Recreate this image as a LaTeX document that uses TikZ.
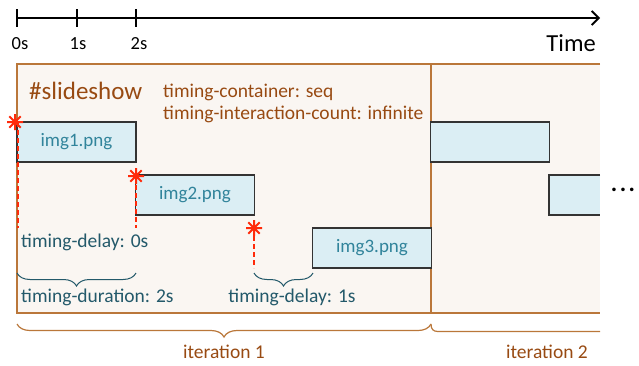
\documentclass[tikz,border=0pt]{standalone}
\usepackage{fontspec}
\setmainfont{Carlito}
\usetikzlibrary{arrows.meta,decorations.pathreplacing}
\definecolor{contfill}{HTML}{FAF6F2}
\definecolor{contline}{HTML}{BA773A}
\definecolor{browntext}{HTML}{984A12}
\definecolor{boxfill}{HTML}{DBEEF4}
\definecolor{boxline}{HTML}{333333}
\definecolor{imgtext}{HTML}{31849B}
\definecolor{labtext}{HTML}{23596A}
\definecolor{starred}{HTML}{FF2A0A}
\tikzset{
  imgbox/.style={draw=boxline, fill=boxfill, line width=1.1pt, minimum width=119pt, minimum height=40pt, inner sep=0pt, text=imgtext, font=\fontsize{19}{22}\selectfont},
  lab/.style={text=labtext, font=\fontsize{19.5}{22}\selectfont, inner sep=0pt},
  brn/.style={text=browntext, font=\fontsize{19.5}{22}\selectfont, inner sep=0pt},
  tick/.style={font=\fontsize{18.5}{20}\selectfont, inner sep=0pt},
  reddash/.style={draw=starred, line width=2pt, dash pattern=on 5pt off 3pt},
  starline/.style={draw=starred, line width=2pt},
  smallbrace/.style={draw=labtext, line width=1pt, decorate, decoration={brace, mirror, amplitude=13pt}},
  bigbrace/.style={draw=contline, line width=1.2pt, decorate, decoration={brace, mirror, amplitude=13pt}}
}
\newcommand{\redstar}[2]{%
  \draw[starline] (#1-8,#2) -- (#1+8,#2) (#1,#2-8) -- (#1,#2+8)
    (#1-5.7,#2-5.7) -- (#1+5.7,#2+5.7) (#1-5.7,#2+5.7) -- (#1+5.7,#2-5.7);}
\begin{document}
\begin{tikzpicture}[x=1pt,y=-1pt]
\useasboundingbox (0,0) rectangle (639,365);
% time axis
\coordinate (ax0) at (17,18);
\coordinate (axend) at (600,18);
\draw[line width=1.8pt, -{Straight Barb[length=7pt,width=14pt,line width=1.8pt]}] (ax0) -- (axend);
\foreach \x in {17,77,136} \draw[line width=1.8pt] (\x,9) -- (\x,27);
\node[tick] (t0) at (20,44) {0s};
\node[tick] (t1) at (78,44) {1s};
\node[tick] (t2) at (139,44) {2s};
\node[tick, anchor=east, font=\fontsize{24.5}{28}\selectfont] (time) at (596,43) {Time};
% container
\fill[contfill] (17,64) rectangle (600,313);
\draw[contline, line width=1.2pt] (600,64) -- (17,64) -- (17,313) -- (600,313);
\draw[contline, line width=1.2pt] (431,64) -- (431,313);
\node[brn, anchor=west, font=\fontsize{25}{30}\selectfont] (ss) at (29,91) {\#slideshow};
\node[brn, anchor=west] (tc) at (163,92) {timing-container: seq};
\node[brn, anchor=west] (tic) at (163,114) {timing-interaction-count: infinite};
% image boxes
\node[imgbox] (img1) at (76.5,142) {img1.png};
\node[imgbox] (img2) at (195,195) {img2.png};
\node[imgbox] (img3) at (372,248) {img3.png};
\node[imgbox] (img1b) at (490,142) {};
\fill[boxfill] (549,175) rectangle (600,215);
\draw[boxline, line width=1.1pt] (600,175) -- (549,175) -- (549,215) -- (600,215);
\node[font=\bfseries\fontsize{24}{26}\selectfont, inner sep=0pt] (dots) at (623,190) {.\hspace{2.5pt}.\hspace{2.5pt}.};
% red markers
\coordinate (d1a) at (18,122); \coordinate (d1b) at (18,228);
\coordinate (d2a) at (136,177); \coordinate (d2b) at (136,228);
\coordinate (d3a) at (254,228); \coordinate (d3b) at (254,268);
\draw[reddash] (d1a) -- (d1b);
\draw[reddash] (d2a) -- (d2b);
\draw[reddash] (d3a) -- (d3b);
\redstar{15}{122}
\redstar{136}{176}
\redstar{254}{228}
% labels
\node[lab, anchor=west] (del0) at (21,242) {timing-delay: 0s};
\coordinate (b1a) at (17,273); \coordinate (b1b) at (136,273);
\draw[smallbrace] (b1a) -- (b1b);
\node[lab, anchor=west] (dur) at (21,297) {timing-duration: 2s};
\coordinate (b2a) at (254,273); \coordinate (b2b) at (313,273);
\draw[smallbrace] (b2a) -- (b2b);
\node[lab] (del1) at (292,297) {timing-delay: 1s};
% iteration braces
\coordinate (i1a) at (17,324); \coordinate (i1b) at (431,324);
\draw[bigbrace] (i1a) -- (i1b);
\coordinate (i2end) at (600,331.5);
\draw[contline, line width=1.2pt] (i1b) .. controls (431,329) and (433,331.5) .. (438,331.5) -- (i2end);
\node[brn] (it1) at (224,352) {iteration 1};
\node[brn] (it2) at (547,352) {iteration 2};
\end{tikzpicture}
\end{document}
